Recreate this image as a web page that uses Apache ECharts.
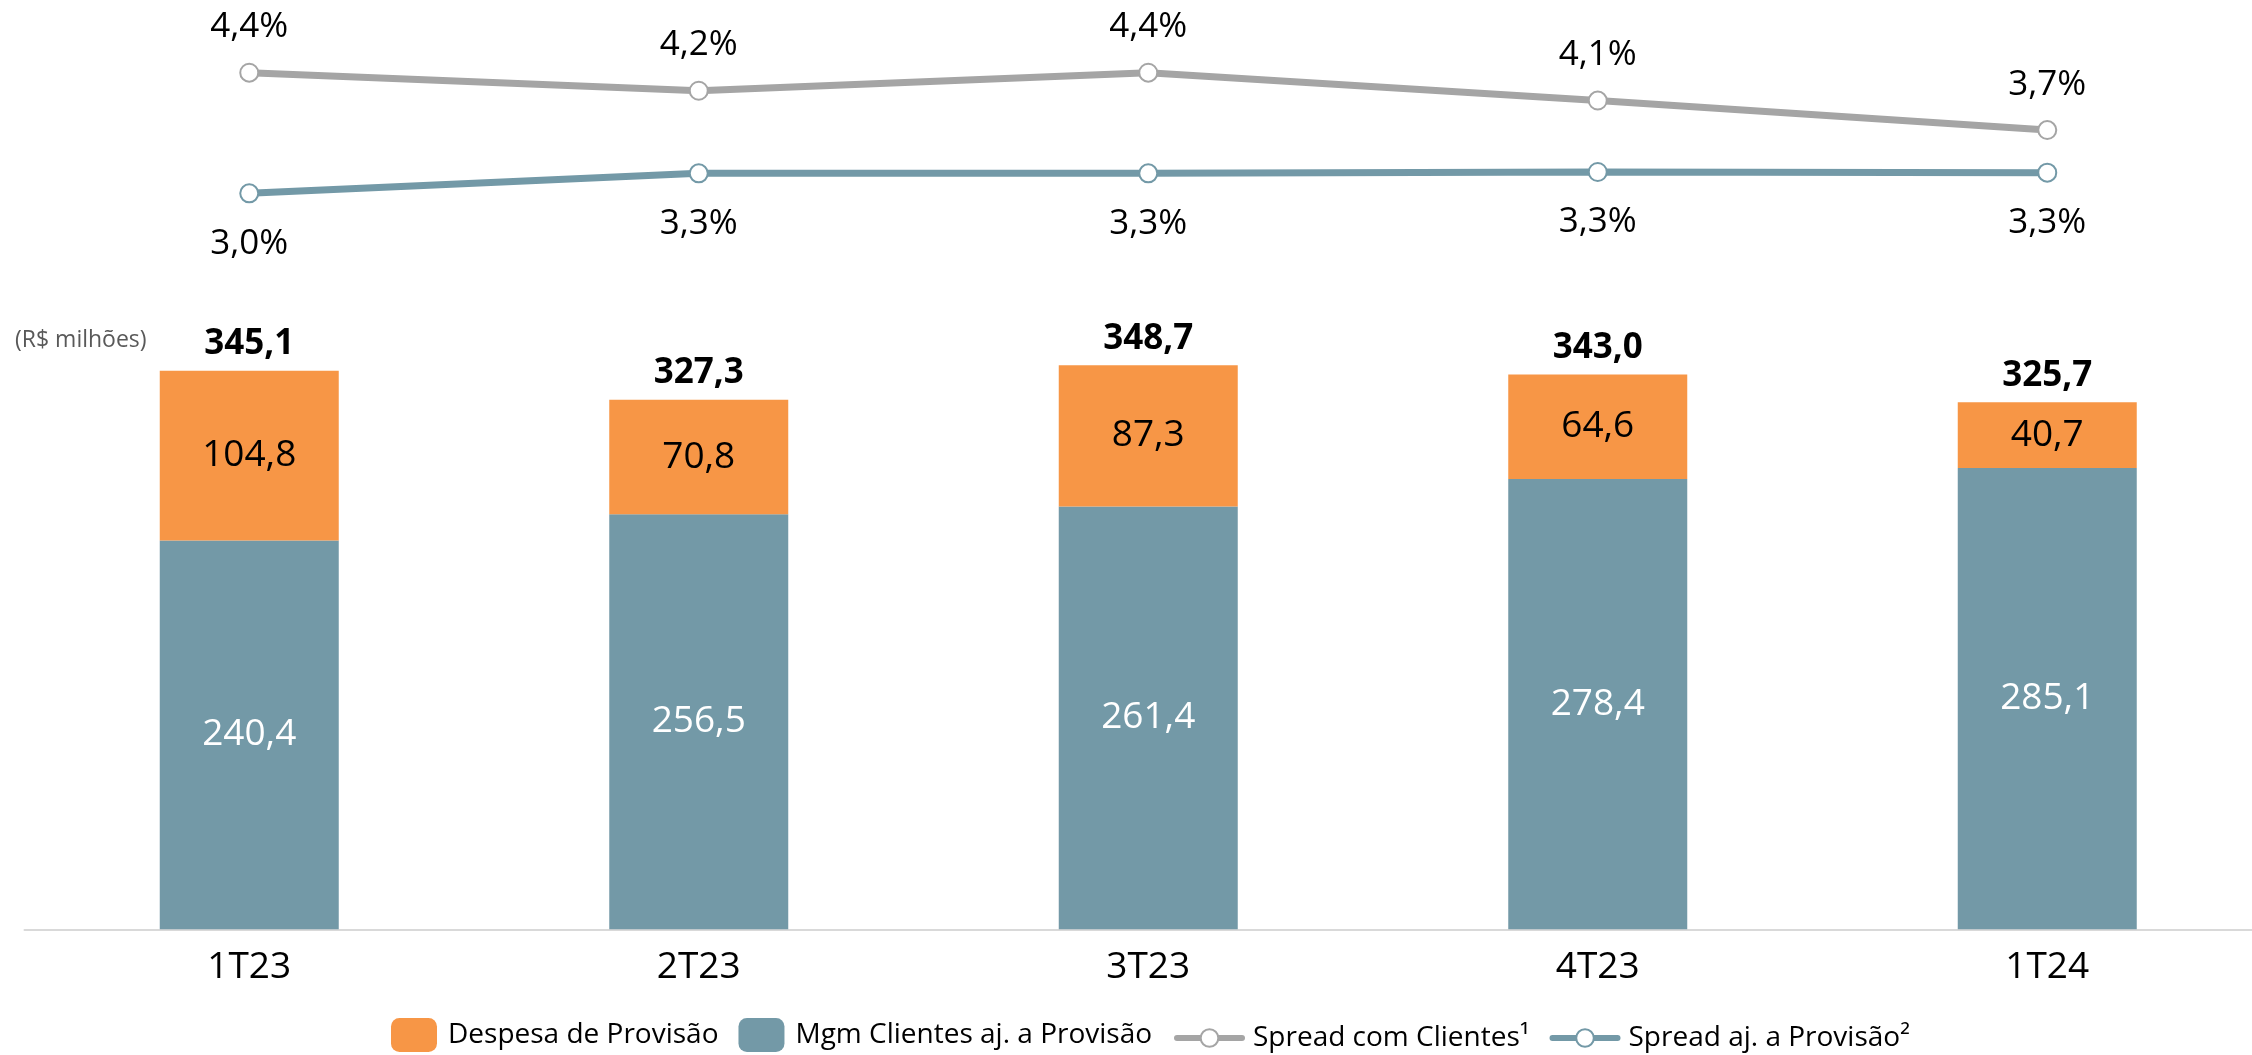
<!DOCTYPE html>
<html>
<head>
<meta charset="utf-8">
<script src="https://cdn.jsdelivr.net/npm/echarts@6/dist/echarts.min.js"></script>
<style>
  html, body { margin: 0; padding: 0; background: #fff; }
  #chart { width: 2252px; height: 1055px; }
</style>
</head>
<body>
<div id="chart"></div>
<script>
const categorias = ['1T23', '2T23', '3T23', '4T23', '1T24'];
const despesaProvisao = [104.8, 70.8, 87.3, 64.6, 40.7];
const mgmClientes = [240.4, 256.5, 261.4, 278.4, 285.1];
const totais = [345.1, 327.3, 348.7, 343.0, 325.7];
const spreadClientes = [4.4, 4.18, 4.4, 4.06, 3.7];
const spreadProvisao = [3.0, 3.3, 3.3, 3.32, 3.31];

const LARANJA = '#F79646';
const AZUL = '#7399A7';
const CINZA = '#A5A5A5';
const FONTE = '"Open Sans", "Noto Sans", sans-serif';

const fmt = v => v.toFixed(1).replace('.', ',');

const chart = echarts.init(document.getElementById('chart'));

const linha = cor => ({ color: cor, width: 6, cap: 'round', join: 'round' });

const option = {
  animation: false,
  textStyle: { fontFamily: FONTE },
  graphic: [
    {
      type: 'text',
      left: 15,
      top: 329,
      style: { text: '(R$ milhões)', font: '23px ' + FONTE, fill: '#595959' }
    }
  ],
  legend: [
    {
      left: 391,
      top: 1018,
      padding: 0,
      itemWidth: 46,
      itemHeight: 34,
      itemGap: 20,
      data: ['Despesa de Provisão', 'Mgm Clientes aj. a Provisão'],
      textStyle: { fontSize: 28, color: '#000', padding: [0, 0, 0, 6] }
    },
    {
      left: 1174,
      top: 1024,
      padding: 0,
      itemWidth: 65,
      itemHeight: 22,
      itemGap: 20,
      data: [
        { name: 'Spread com Clientes¹', lineStyle: linha(CINZA) },
        { name: 'Spread aj. a Provisão²', lineStyle: linha(AZUL) }
      ],
      textStyle: { fontSize: 28, color: '#000', padding: [0, 0, 0, 6] }
    }
  ],
  grid: [
    { left: 24.5, width: 2247.5, top: 282.2, bottom: 125.7, outerBoundsMode: 'none', containLabel: false },
    { left: 24.5, width: 2247.5, top: 20, height: 190, outerBoundsMode: 'none', containLabel: false }
  ],
  xAxis: [
    {
      type: 'category',
      gridIndex: 0,
      data: categorias,
      axisLine: { lineStyle: { color: '#D9D9D9', width: 2 } },
      axisTick: { show: false },
      axisLabel: { color: '#000', fontSize: 37, margin: 20 }
    },
    {
      type: 'category',
      gridIndex: 1,
      data: categorias,
      show: false
    }
  ],
  yAxis: [
    { type: 'value', gridIndex: 0, min: 0, max: 400, show: false, splitLine: { show: false } },
    { type: 'value', gridIndex: 1, min: 2.7236, max: 5.0435, show: false, splitLine: { show: false } },
    { type: 'value', gridIndex: 1, min: 2.75, max: 5.598, show: false, splitLine: { show: false } }
  ],
  series: [
    {
      name: 'Mgm Clientes aj. a Provisão',
      type: 'bar',
      stack: 'total',
      barWidth: 179,
      data: mgmClientes,
      itemStyle: { color: AZUL },
      label: {
        show: true,
        position: 'inside',
        color: '#fff',
        fontSize: 37,
        formatter: p => fmt(p.value)
      }
    },
    {
      name: 'Despesa de Provisão',
      type: 'bar',
      stack: 'total',
      barWidth: 179,
      data: despesaProvisao,
      itemStyle: { color: LARANJA },
      label: {
        show: true,
        position: 'inside',
        color: '#000',
        fontSize: 37,
        formatter: p => fmt(p.value)
      }
    },
    {
      name: 'Total',
      type: 'bar',
      barWidth: 179,
      barGap: '-100%',
      data: totais,
      silent: true,
      z: 1,
      itemStyle: { color: 'rgba(0,0,0,0)' },
      label: {
        show: true,
        position: 'top',
        distance: 9,
        color: '#000',
        fontSize: 35,
        fontWeight: 'bold',
        formatter: p => fmt(p.value)
      }
    },
    {
      name: 'Spread com Clientes¹',
      type: 'line',
      xAxisIndex: 1,
      yAxisIndex: 1,
      data: spreadClientes,
      symbol: 'circle',
      symbolSize: 18,
      z: 3,
      lineStyle: { color: CINZA, width: 7 },
      emphasis: { disabled: true },
      itemStyle: { color: '#fff', borderColor: CINZA, borderWidth: 2 },
      label: {
        show: true,
        position: 'top',
        distance: 18,
        color: '#000',
        fontSize: 35,
        formatter: p => fmt(p.value) + '%'
      }
    },
    {
      name: 'Spread aj. a Provisão²',
      type: 'line',
      xAxisIndex: 1,
      yAxisIndex: 2,
      data: spreadProvisao,
      symbol: 'circle',
      symbolSize: 18,
      z: 3,
      lineStyle: { color: AZUL, width: 7 },
      emphasis: { disabled: true },
      itemStyle: { color: '#fff', borderColor: AZUL, borderWidth: 2 },
      label: {
        show: true,
        position: 'bottom',
        distance: 23,
        color: '#000',
        fontSize: 35,
        formatter: p => fmt(p.value) + '%'
      }
    }
  ]
};

chart.setOption(option);
</script>
</body>
</html>
